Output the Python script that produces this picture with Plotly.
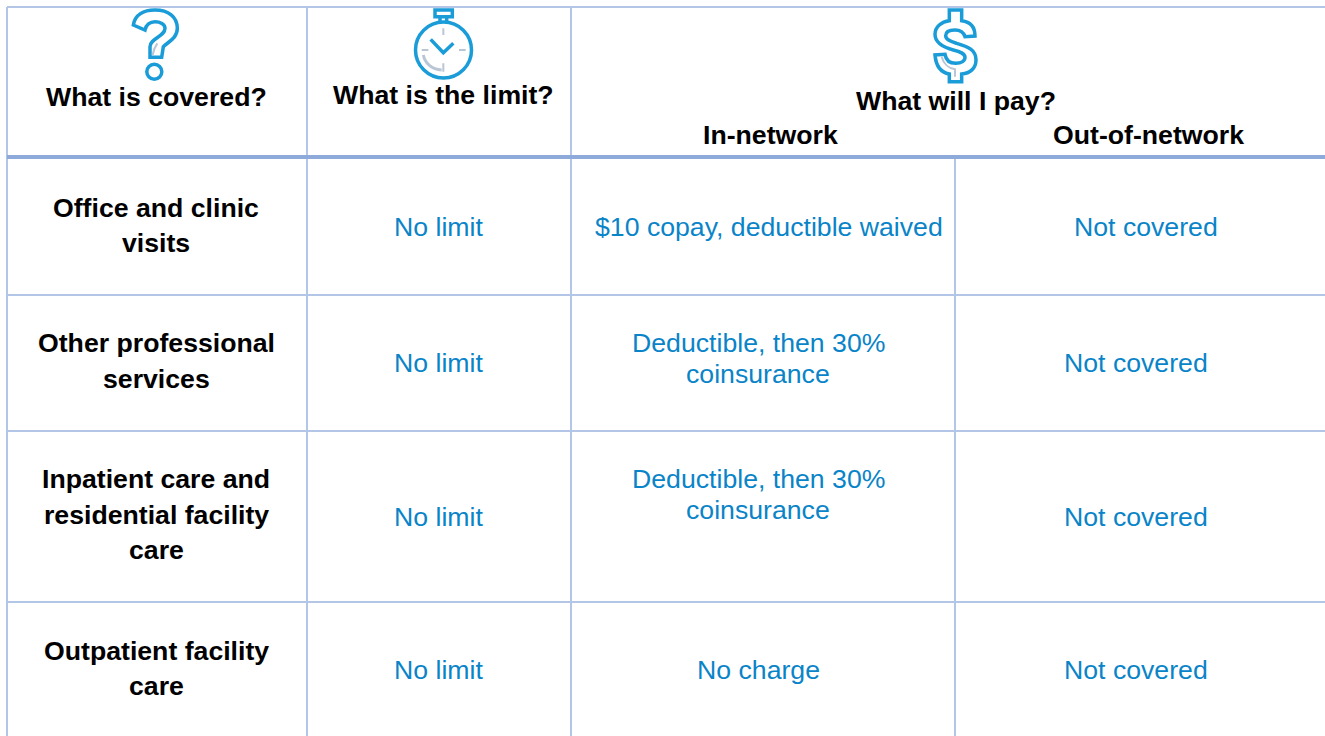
import re
import plotly.graph_objects as go

# ---------- content ----------
covered_header = "What is covered?"
limit_header = "What is the limit?"
pay_header = "What will I pay?"
in_network_header = "In-network"
out_network_header = "Out-of-network"
covered = [["Office and clinic", "visits"],
           ["Other professional", "services"],
           ["Inpatient care and", "residential facility", "care"],
           ["Outpatient facility", "care"]]
limits = ["No limit", "No limit", "No limit", "No limit"]
in_network = [["$10 copay, deductible waived"],
              ["Deductible, then 30%", "coinsurance"],
              ["Deductible, then 30%", "coinsurance"],
              ["No charge"]]
out_network = ["Not covered", "Not covered", "Not covered", "Not covered"]

# ---------- layout ----------
W, H = 1325, 736
LINE = "#b4c6e7"
HEAD_LINE = "#8eaadb"
BLUE = "#0a84c8"
ICON = "#1a9cd8"
GREY = "#b9c6d6"
FONT = "Liberation Sans"
BOLD_SIZE = 26.67
TEXT_SIZE = 26.67

fig = go.Figure()
shapes = []
anns = []


def line(x0, y0, x1, y1, color=LINE, width=2):
    shapes.append(dict(type="line", x0=x0, y0=y0, x1=x1, y1=y1, xref="x", yref="y",
                       line=dict(color=color, width=width)))


def text(x, y, s, bold=False, size=None):
    anns.append(dict(x=x, y=y, xref="x", yref="y", text=f"<b>{s}</b>" if bold else s,
                     showarrow=False, xanchor="center", yanchor="middle",
                     font=dict(family=FONT, size=size or (BOLD_SIZE if bold else TEXT_SIZE),
                               color="#000000" if bold else BLUE)))


# grid
line(7, 7, W, 7)
for x in (7, 307, 571):
    line(x, 7, x, H)
line(955, 157, 955, H)
for y in (295, 431, 602):
    line(7, y, W, y)
line(7, 157, W, 157, HEAD_LINE, 4)

# headers
text(156, 97, covered_header, True)
text(443, 95, limit_header, True)
text(956, 101, pay_header, True)
text(770, 135, in_network_header, True)
text(1148, 135, out_network_header, True)

# body
covered_y = [[208, 243], [343, 379], [479, 515, 550], [651, 686]]
for lines, ys in zip(covered, covered_y):
    for s, y in zip(lines, ys):
        text(156, y, s, True)
limit_y = [227, 363, 517, 670]
for s, y in zip(limits, limit_y):
    text(438.5, y, s)
in_y = [[227], [343, 374], [479, 510], [670]]
for i, (lines, ys) in enumerate(zip(in_network, in_y)):
    for s, y in zip(lines, ys):
        text(768.5 if i == 0 else 758, y, s)
for i, (s, y) in enumerate(zip(out_network, limit_y)):
    text(1146 if i == 0 else 1136, y, s)


# ---------- icons ----------
def icon_path(d, ox, oy, k=3.0):
    res, is_x = [], True
    for tok in re.findall(r"[A-Za-z]|-?\d+\.?\d*", d):
        if tok.isalpha():
            res.append(tok)
            is_x = True
        else:
            v = float(tok) / k + (ox if is_x else oy)
            res.append(f"{v:.2f}")
            is_x = not is_x
    return " ".join(res)


def path(d, ox, oy, color=ICON, width=3.5):
    shapes.append(dict(type="path", path=icon_path(d, ox, oy), xref="x", yref="y",
                       line=dict(color=color, width=width), fillcolor="rgba(0,0,0,0)"))


def circle(cx, cy, r, color=ICON, width=3.5):
    shapes.append(dict(type="circle", x0=cx - r, x1=cx + r, y0=cy - r, y1=cy + r, xref="x", yref="y",
                       line=dict(color=color, width=width)))


# question mark
path("M100 75 C105 45 130 30 165 30 C205 30 232 50 232 85 C232 115 205 125 190 140 "
     "L185 172 L150 172 L150 140 C150 115 195 110 195 85 C195 72 180 65 165 65 C150 65 138 75 135 90 Z",
     100, 0)
path("M172 130 C165 140 160 150 158 165", 100, 0, GREY, 2)
circle(154.3, 71.7, 7.5)

# stopwatch
circle(443.5, 50, 28)
path("M135 30 L187 30 L187 50 L135 50 Z", 390, 0)
path("M150 50 L150 70 M170 50 L170 70", 390, 0)
path("M122 118 L160 158 L190 130", 390, 0)
path("M100 165 C105 190 125 208 155 210", 390, 0, GREY, 3)
path("M160 85 L160 105 M160 190 L160 215 M95 150 L115 150 M207 150 L227 150", 390, 0, GREY, 2)

# dollar
path("M118 30 L155 30 L155 62 C180 65 195 80 195 108 L165 110 C160 95 150 90 135 90 "
     "C115 90 107 97 107 107 C107 120 125 125 140 130 C175 140 198 150 198 180 "
     "C198 205 180 220 155 222 L155 245 L118 245 L118 222 C95 218 78 200 75 165 L105 163 "
     "C108 180 120 190 137 190 C155 190 165 182 165 172 C165 160 150 155 130 150 "
     "C100 142 75 130 75 103 C75 80 95 65 118 62 Z", 910, 0)
path("M95 170 C100 190 115 205 135 208 L135 230", 910, 0, GREY, 2)

fig.update_layout(
    width=W, height=H, margin=dict(l=0, r=0, t=0, b=0),
    paper_bgcolor="white", plot_bgcolor="white", showlegend=False,
    xaxis=dict(range=[0, W], visible=False, fixedrange=True),
    yaxis=dict(range=[H, 0], visible=False, fixedrange=True),
    shapes=shapes, annotations=anns,
)
fig.write_html("out.html", config={"displayModeBar": False},
               post_script="document.body.style.margin='0';document.documentElement.style.overflow='hidden';")
